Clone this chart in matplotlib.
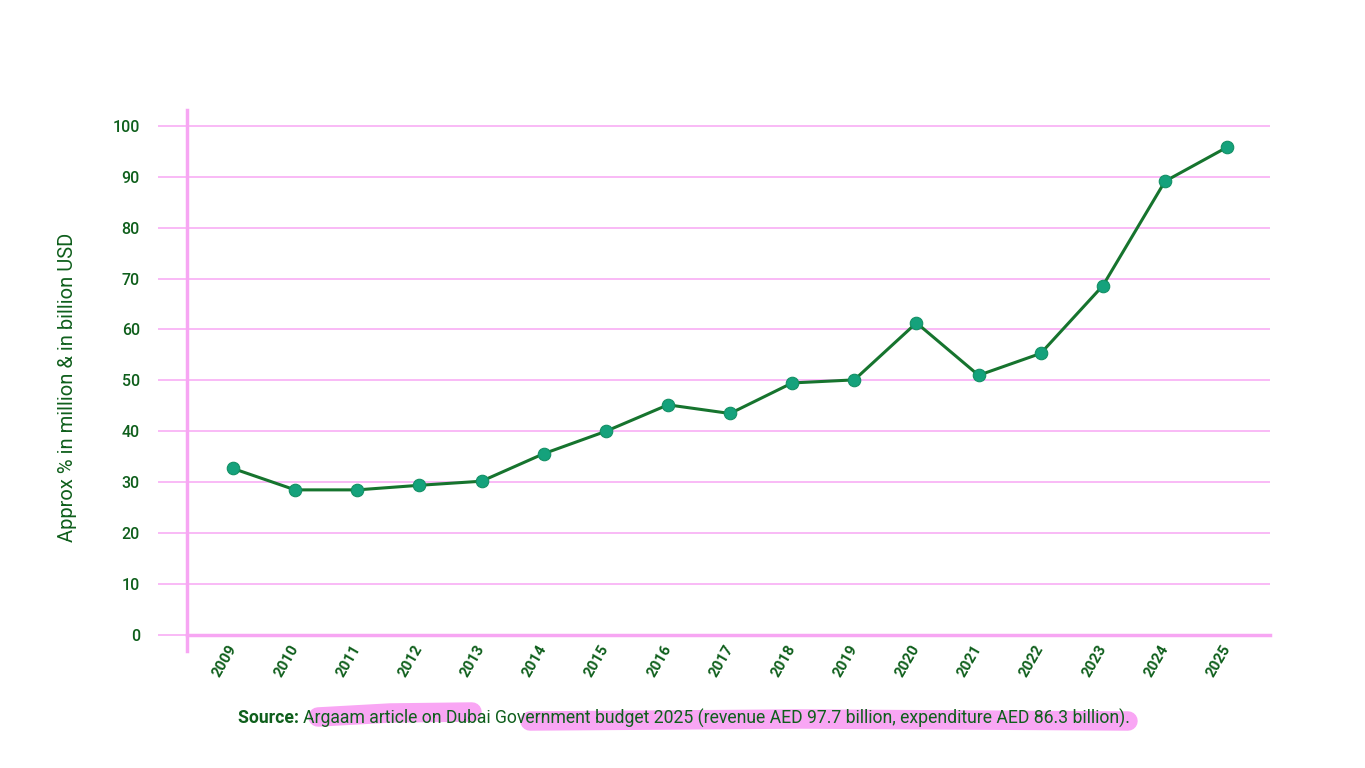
import matplotlib
matplotlib.use("Agg")
import matplotlib.pyplot as plt
from matplotlib.lines import Line2D

plt.rcParams['font.family'] = ['Roboto', 'DejaVu Sans']

years = ["2009", "2010", "2011", "2012", "2013", "2014", "2015", "2016", "2017",
         "2018", "2019", "2020", "2021", "2022", "2023", "2024", "2025"]
values = [32.7, 28.5, 28.5, 29.4, 30.2, 35.6, 40.0, 45.2, 43.5,
          49.5, 50.1, 61.3, 51.0, 55.3, 68.6, 89.1, 95.8]
yticks = [0, 10, 20, 30, 40, 50, 60, 70, 80, 90, 100]

PINK = "#f9b4f6"
PINK_AX = "#f7a6f3"
HIGHLIGHT = "#f9a6f4"
GREEN_TXT = "#0f5f1c"
LINE = "#16742e"
MARK = "#15a27c"
MARK_EDGE = "#129065"

W, H = 1365, 768
fig = plt.figure(figsize=(W / 100, H / 100), dpi=100)
left, right, top, bottom = 187, 1270, 110, 635
ax = fig.add_axes([left / W, 1 - bottom / H, (right - left) / W, (bottom - top) / H])

x = list(range(len(years)))
ax.plot(x, values, color=LINE, lw=2.2, zorder=3,
        marker='o', markersize=9, markerfacecolor=MARK, markeredgecolor=MARK_EDGE,
        markeredgewidth=0.8)

ax.set_xlim(-0.74, len(years) - 1 + 0.69)
ax.set_ylim(0, 103.1)
ax.set_yticks(yticks)
ax.set_xticks(x)
ax.set_xticklabels(years)

ax.grid(axis='y', color=PINK, lw=1.3)
ax.set_axisbelow(True)
for s in ['top', 'right']:
    ax.spines[s].set_visible(False)
ax.spines['bottom'].set_color(PINK_AX)
ax.spines['bottom'].set_linewidth(2.5)
ax.spines['left'].set_visible(False)
# left axis line extending slightly beyond the plot area
ax.plot([0, 0], [-0.03, 1.0], transform=ax.transAxes, color=PINK_AX, lw=2.5,
        clip_on=False, zorder=2)

ax.tick_params(axis='y', length=21, width=1.3, color=PINK, pad=13,
               labelsize=11.5, labelcolor=GREEN_TXT)
ax.tick_params(axis='x', length=0, pad=8, labelsize=10.8, labelcolor=GREEN_TXT)
for lab in ax.get_yticklabels():
    lab.set_fontweight('medium')
for lab in ax.get_xticklabels():
    lab.set_rotation(60)
    lab.set_ha('right')
    lab.set_va('center')
    lab.set_rotation_mode('anchor')
    lab.set_fontweight('bold')

ax.set_ylabel("Approx % in million & in billion USD", fontsize=14.5, color=GREEN_TXT)
ax.yaxis.set_label_coords((77 - left) / (right - left), (bottom - 387) / (bottom - top))

# highlighter stroke behind source text
def fx(px):
    return px / W

def fy(py):
    return 1 - py / H

fig.add_artist(Line2D([fx(318), fx(390), fx(472)], [fy(717), fy(713), fy(712)],
                      color=HIGHLIGHT, lw=14, solid_capstyle='round', zorder=0))
fig.add_artist(Line2D([fx(530), fx(800), fx(1128)], [fy(721), fy(719), fy(721)],
                      color=HIGHLIGHT, lw=14, solid_capstyle='round', zorder=0))

src_y = fy(718)
t1 = fig.text(fx(238), src_y, "Source: ", fontsize=12.7, fontweight='bold',
              color=GREEN_TXT, ha='left', va='center', zorder=5)
fig.canvas.draw()
bb = t1.get_window_extent()
fig.text(bb.x1 / W, src_y,
         "Argaam article on Dubai Government budget 2025 (revenue AED 97.7 billion, expenditure AED 86.3 billion).",
         fontsize=12.7, color=GREEN_TXT, ha='left', va='center', zorder=5)

fig.savefig("out.png", dpi=100, facecolor='white')
